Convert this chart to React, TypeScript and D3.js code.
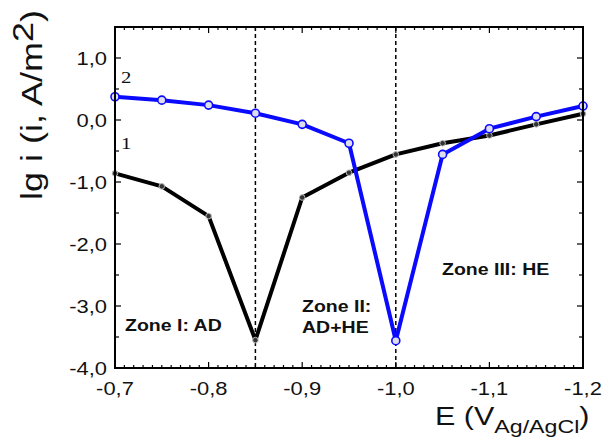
import React from 'react'
import * as d3 from 'd3'

// potential, V vs Ag/AgCl
const potentials = [-0.7, -0.75, -0.8, -0.85, -0.9, -0.95, -1.0, -1.05, -1.1, -1.15, -1.2]
// lg i, curve 1 (black) and curve 2 (blue)
const curve1 = [-0.86, -1.07, -1.55, -3.55, -1.25, -0.85, -0.555, -0.375, -0.25, -0.07, 0.1]
const curve2 = [0.375, 0.32, 0.24, 0.11, -0.07, -0.375, -3.56, -0.555, -0.14, 0.055, 0.225]

const xTicks = [-0.7, -0.8, -0.9, -1.0, -1.1, -1.2]
const yTicks = [-4, -3, -2, -1, 0, 1]
const zoneLines = [-0.85, -1.0]

const W = 605
const H = 439
const margin = { top: 27, right: 22, bottom: 71, left: 115 }
// the source figure is stretched sideways, so is its lettering
const SX = 1.22

const fmt = (v: number) => v.toFixed(1).replace('.', ',')
const sans = 'Arial, "Liberation Sans", sans-serif'

function SText(props: { x: number; y: number; anchor?: string; size: number; bold?: boolean; children: React.ReactNode; family?: string }) {
  const { x, y, anchor = 'start', size, bold, children, family = sans } = props
  return (
    <text transform={`translate(${x},${y}) scale(${SX},1)`} textAnchor={anchor} fontFamily={family}
      fontSize={size} fontWeight={bold ? 'bold' : 'normal'} fill="#111">
      {children}
    </text>
  )
}

export default function App() {
  const x = d3.scaleLinear().domain([-0.7, -1.2]).range([margin.left, W - margin.right])
  const y = d3.scaleLinear().domain([-4, 1.5]).range([H - margin.bottom, margin.top])
  const x0 = margin.left, x1 = W - margin.right
  const y0 = H - margin.bottom, y1 = margin.top

  const line = d3.line<[number, number]>().x(d => x(d[0])).y(d => y(d[1]))
  const pts1 = potentials.map((p, i) => [p, curve1[i]] as [number, number])
  const pts2 = potentials.map((p, i) => [p, curve2[i]] as [number, number])

  const xMinor = d3.range(0, 51).map(i => -0.7 - i * 0.01)
  const yMinor = d3.range(0, 12).map(i => -4 + i * 0.5)

  return (
    <svg width={W} height={H} style={{ position: 'absolute', left: 0, top: 0, background: '#fff' }}>
      {/* dashed zone borders */}
      {zoneLines.map(v => (
        <line key={v} x1={x(v)} x2={x(v)} y1={y1} y2={y0} stroke="#000" strokeWidth={1.5} strokeDasharray="4,3" />
      ))}

      {/* curves */}
      <path d={line(pts1) || ''} fill="none" stroke="#000" strokeWidth={4} strokeLinejoin="round" />
      <path d={line(pts2) || ''} fill="none" stroke="#0a0aff" strokeWidth={4} strokeLinejoin="round" />
      {pts1.map((d, i) => (
        <circle key={'a' + i} cx={x(d[0])} cy={y(d[1])} r={2.8} fill="#333" stroke="#bbb" strokeWidth={1} />
      ))}
      {pts2.map((d, i) => (
        <circle key={'b' + i} cx={x(d[0])} cy={y(d[1])} r={4} fill="#dde" stroke="#0a0aff" strokeWidth={1.6} />
      ))}

      {/* frame */}
      <rect x={x0} y={y1} width={x1 - x0} height={y0 - y1} fill="none" stroke="#000" strokeWidth={2} />

      {/* x ticks, bottom and top, inward */}
      {xMinor.map((v, i) => {
        const len = i % 10 === 0 ? 6 : 3
        return (
          <g key={'xm' + i}>
            <line x1={x(v)} x2={x(v)} y1={y0} y2={y0 - len} stroke="#000" strokeWidth={1.2} />
            <line x1={x(v)} x2={x(v)} y1={y1} y2={y1 + len} stroke="#000" strokeWidth={1.2} />
          </g>
        )
      })}
      {/* y ticks, left and right, inward */}
      {yMinor.map((v, i) => {
        const len = i % 2 === 0 ? 6 : 4
        return (
          <g key={'ym' + i}>
            <line x1={x0} x2={x0 + len} y1={y(v)} y2={y(v)} stroke="#000" strokeWidth={1.2} />
            <line x1={x1} x2={x1 - len} y1={y(v)} y2={y(v)} stroke="#000" strokeWidth={1.2} />
          </g>
        )
      })}

      {/* tick labels */}
      {xTicks.map(v => (
        <SText key={'xl' + v} x={x(v)} y={395} anchor="middle" size={18}>{fmt(v)}</SText>
      ))}
      {yTicks.map(v => (
        <SText key={'yl' + v} x={107} y={y(v) + 6.5} anchor="end" size={18}>{fmt(v)}</SText>
      ))}

      {/* series labels */}
      <SText x={121} y={83} size={17} family='"Liberation Serif", "Times New Roman", serif'>2</SText>
      <SText x={121} y={149} size={17} family='"Liberation Serif", "Times New Roman", serif'>1</SText>

      {/* zone labels */}
      <SText x={125} y={331} size={16} bold>Zone I: AD</SText>
      <SText x={302} y={312} size={16} bold>Zone II:</SText>
      <SText x={302} y={333} size={16} bold>AD+HE</SText>
      <SText x={442} y={275} size={16} bold>Zone III: HE</SText>

      {/* axis titles */}
      <text transform="translate(42,200) rotate(-90) scale(1.2,1)" fontFamily={sans} fontSize={30} fill="#111">
        lg i (i, A/m<tspan dy={-9}>2</tspan><tspan dy={9}>)</tspan>
      </text>
      <SText x={435} y={425} size={25}>
        E (V<tspan dy={8} fontSize={19}>Ag/AgCl</tspan><tspan dy={-8}>)</tspan>
      </SText>
    </svg>
  )
}
